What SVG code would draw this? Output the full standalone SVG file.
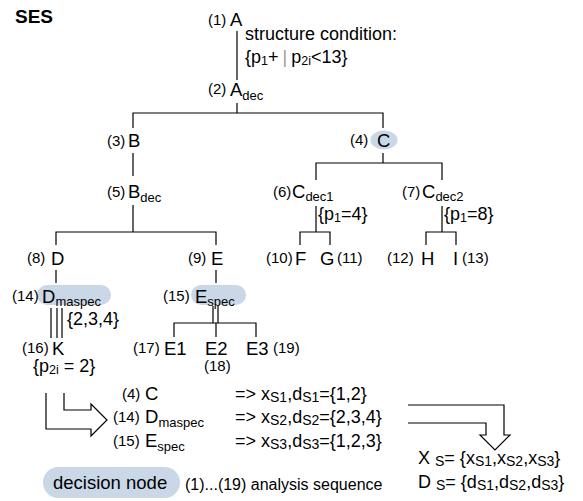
<svg xmlns="http://www.w3.org/2000/svg" width="583" height="501" viewBox="0 0 583 501">
<style>
text{font-family:"Liberation Sans",Arial,sans-serif;fill:#000}
.n{font-size:18.5px}
.l{font-size:15px}
.s{font-size:13px}
.c{font-size:18px}
.cs{font-size:12.5px}
.m{font-size:18px}
.ms{font-size:14px}
.hl{fill:#cad7e7;stroke:none}
.ln{stroke:#000;stroke-width:1.2;fill:none}
</style>
<rect width="583" height="501" fill="#fff"/>
<text x="15" y="23" style="font-size:19px;font-weight:bold">SES</text>
<g id="connectors">
<path class="ln" d="M237,31V80M237,103V113M133,128V113H383V128M133,153V176M133,205V232M56,245V232H216V245M383,153V163M316,180V163H442V180M316,206V232M300,245V232H330V245M442,206V232M426,245V232H456V245M56,270V283M216,270V283M51,308V338M57,308V338M62,308V338M213,306V323M218,306V323M174,337V323H256V337M216,323V337"/>
<path class="ln" d="M46,393V429H91V436L107,420L91,404V410H64V393"/>
<path class="ln" d="M408,405H504V435H510L495,450L480,435H486V423H408"/>
</g>
<g id="n1"><text x="208" y="25" class="l">(1)</text><text x="230" y="26" class="n">A</text></g>
<g id="cond"><text x="245" y="40" class="c">structure condition:</text><text x="245" y="63" class="c">{p<tspan class="cs" dy="2">1</tspan><tspan dy="-2">+</tspan><tspan dx="4" fill="#999">|</tspan><tspan dx="4">p</tspan><tspan class="cs" dy="2">2i</tspan><tspan dy="-2">&lt;13}</tspan></text></g>
<g id="n2"><text x="208" y="94" class="l">(2)</text><text x="230" y="96" class="n">A<tspan dy="4" class="s">dec</tspan></text></g>
<g id="n3"><text x="107" y="146" class="l">(3)</text><text x="128" y="147" class="n">B</text></g>
<g id="n4"><text x="350" y="145" class="l">(4)</text><ellipse class="hl" cx="384" cy="140" rx="13.5" ry="9.5"/><text x="377" y="147" class="n">C</text></g>
<g id="n5"><text x="107" y="197" class="l">(5)</text><text x="128" y="198" class="n">B<tspan dy="4" class="s">dec</tspan></text></g>
<g id="n6"><text x="273" y="197" class="l">(6)</text><text x="292" y="198" class="n">C<tspan dy="3" class="s">dec1</tspan></text><text x="318" y="220" class="c">{p<tspan class="cs" dy="2">1</tspan><tspan dy="-2">=4}</tspan></text></g>
<g id="n7"><text x="402" y="197" class="l">(7)</text><text x="422" y="198" class="n">C<tspan dy="3" class="s">dec2</tspan></text><text x="444" y="220" class="c">{p<tspan class="cs" dy="2">1</tspan><tspan dy="-2">=8}</tspan></text></g>
<g id="n8"><text x="27" y="263" class="l">(8)</text><text x="51" y="265" class="n">D</text></g>
<g id="n9"><text x="188" y="263" class="l">(9)</text><text x="211" y="265" class="n">E</text></g>
<g id="n10"><text x="266" y="263" class="l">(10)</text><text x="295" y="265" class="n">F</text></g>
<g id="n11"><text x="320" y="265" class="n">G</text><text x="337" y="263" class="l">(11)</text></g>
<g id="n12"><text x="387" y="263" class="l">(12)</text><text x="421" y="265" class="n">H</text></g>
<g id="n13"><text x="453" y="265" class="n">I</text><text x="462" y="263" class="l">(13)</text></g>
<g id="n14"><rect class="hl" x="37" y="285" width="74" height="20" rx="10"/><text x="12" y="301" class="l">(14)</text><text x="42" y="303" class="n">D<tspan dy="3" class="s">maspec</tspan></text><text x="67" y="325" class="c">{2,3,4}</text></g>
<g id="n15"><rect class="hl" x="191" y="285" width="55" height="20" rx="10"/><text x="163" y="301" class="l">(15)</text><text x="195" y="303" class="n">E<tspan dy="3" class="s">spec</tspan></text></g>
<g id="n16"><text x="22" y="353" class="l">(16)</text><text x="52" y="355" class="n">K</text><text x="33" y="372" class="c">{p<tspan class="cs" dy="2">2i</tspan><tspan dy="-2"> = 2}</tspan></text></g>
<g id="n17"><text x="133" y="353" class="l">(17)</text><text x="164" y="355" class="n">E1</text></g>
<g id="n18"><text x="205" y="355" class="n">E2</text><text x="204" y="371" class="l">(18)</text></g>
<g id="n19"><text x="246" y="355" class="n">E3</text><text x="273" y="353" class="l">(19)</text></g>
<g id="summary">
<text x="122" y="399" class="l">(4)</text><text x="145" y="400" class="n">C</text>
<text x="113" y="422" class="l">(14)</text><text x="145" y="423" class="n">D<tspan dy="4" class="s">maspec</tspan></text>
<text x="113" y="446" class="l">(15)</text><text x="145" y="447" class="n">E<tspan dy="4" class="s">spec</tspan></text>
<text x="235" y="400" class="m">=&gt; x<tspan dy="2" class="ms">S1</tspan><tspan dy="-2">,d</tspan><tspan dy="2" class="ms">S1</tspan><tspan dy="-2">={1,2}</tspan></text>
<text x="235" y="423" class="m">=&gt; x<tspan dy="2" class="ms">S2</tspan><tspan dy="-2">,d</tspan><tspan dy="2" class="ms">S2</tspan><tspan dy="-2">={2,3,4}</tspan></text>
<text x="235" y="447" class="m">=&gt; x<tspan dy="2" class="ms">S3</tspan><tspan dy="-2">,d</tspan><tspan dy="2" class="ms">S3</tspan><tspan dy="-2">={1,2,3}</tspan></text>
<text x="418" y="464" class="m">X <tspan dy="2" class="ms">S</tspan><tspan dy="-2">= {x</tspan><tspan dy="2" class="ms">S1</tspan><tspan dy="-2">,x</tspan><tspan dy="2" class="ms">S2</tspan><tspan dy="-2">,x</tspan><tspan dy="2" class="ms">S3</tspan><tspan dy="-2">}</tspan></text>
<text x="418" y="488" class="m">D <tspan dy="2" class="ms">S</tspan><tspan dy="-2">= {d</tspan><tspan dy="2" class="ms">S1</tspan><tspan dy="-2">,d</tspan><tspan dy="2" class="ms">S2</tspan><tspan dy="-2">,d</tspan><tspan dy="2" class="ms">S3</tspan><tspan dy="-2">}</tspan></text>
</g>
<g id="legend">
<rect class="hl" x="43" y="467" width="137" height="31" rx="15.5"/>
<text x="53" y="489" style="font-size:18.5px">decision node</text>
<text x="185" y="490" style="font-size:16px">(1)...(19) analysis sequence</text>
</g>
</svg>
